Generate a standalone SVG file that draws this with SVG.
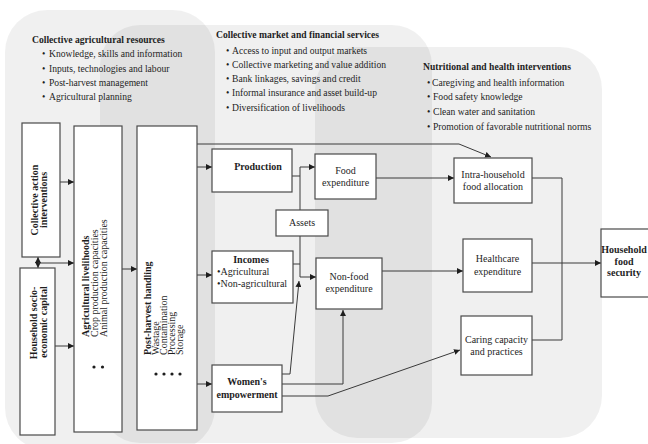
<svg xmlns="http://www.w3.org/2000/svg" width="648" height="444" viewBox="0 0 648 444">
<style>
.bg{fill:#000;fill-opacity:0.06}
.box{fill:#fff;stroke:#4a4a4a;stroke-width:1.2}
.t{font-family:"Liberation Serif","Times New Roman",serif;fill:#1e1e1e;font-size:10px}
.b{font-weight:bold}
.hd{font-size:9.6px}
.m{text-anchor:middle}
.conn path{fill:none;stroke:#3a3a3a;stroke-width:1}
.dot{fill:#1e1e1e}
</style>
<defs>
<marker id="ar" markerUnits="userSpaceOnUse" markerWidth="7" markerHeight="6" refX="6" refY="3" orient="auto">
<path d="M0,0 L6,3 L0,6 z" fill="#1e1e1e"/>
</marker>
<marker id="as" markerUnits="userSpaceOnUse" markerWidth="7" markerHeight="6" refX="0" refY="3" orient="auto">
<path d="M6,0 L0,3 L6,6 z" fill="#1e1e1e"/>
</marker>
</defs>
<rect width="648" height="444" fill="#fff"/>
<g id="backgrounds">
<rect class="bg" x="5" y="10" width="210" height="440" rx="42" ry="42"/>
<rect class="bg" x="100" y="25" width="332" height="418" rx="40" ry="40"/>
<rect class="bg" x="315" y="47" width="287" height="391" rx="42" ry="42"/>
</g>
<g id="hdr-agri">
<text class="t b hd" x="32" y="43">Collective agricultural resources</text>
<text class="t hd" x="42" y="57">•</text><text class="t hd" x="49" y="57">Knowledge, skills and information</text>
<text class="t hd" x="42" y="72">•</text><text class="t hd" x="49" y="72">Inputs, technologies and labour</text>
<text class="t hd" x="42" y="86">•</text><text class="t hd" x="49" y="86">Post-harvest management</text>
<text class="t hd" x="42" y="100">•</text><text class="t hd" x="49" y="100">Agricultural planning</text>
</g>
<g id="hdr-market">
<text class="t b hd" x="216" y="38">Collective market and financial services</text>
<text class="t hd" x="226" y="54">•</text><text class="t hd" x="232" y="54">Access to input and output markets</text>
<text class="t hd" x="226" y="68">•</text><text class="t hd" x="232" y="68">Collective marketing and value addition</text>
<text class="t hd" x="226" y="82">•</text><text class="t hd" x="232" y="82">Bank linkages, savings and credit</text>
<text class="t hd" x="226" y="96">•</text><text class="t hd" x="232" y="96">Informal insurance and asset build-up</text>
<text class="t hd" x="226" y="111">•</text><text class="t hd" x="232" y="111">Diversification of livelihoods</text>
</g>
<g id="hdr-nutrition">
<text class="t b hd" x="423" y="70">Nutritional and health interventions</text>
<text class="t hd" x="427" y="86">•</text><text class="t hd" x="432" y="86">Caregiving and health information</text>
<text class="t hd" x="427" y="100">•</text><text class="t hd" x="433" y="100">Food safety knowledge</text>
<text class="t hd" x="427" y="115">•</text><text class="t hd" x="433" y="115">Clean water and sanitation</text>
<text class="t hd" x="427" y="130">•</text><text class="t hd" x="433" y="130">Promotion of favorable nutritional norms</text>
</g>
<g class="conn" id="connectors">
<path d="M60,182 H74" marker-end="url(#ar)"/>
<path d="M38,257 V268" marker-start="url(#as)" marker-end="url(#ar)"/>
<path d="M38,263 H74" marker-end="url(#ar)"/>
<path d="M55,346 H74" marker-end="url(#ar)"/>
<path d="M122,269 H137" marker-end="url(#ar)"/>
<path d="M197,167 H212" marker-end="url(#ar)"/>
<path d="M197,275 H212" marker-end="url(#ar)"/>
<path d="M197,384 H212" marker-end="url(#ar)"/>
<path d="M197,144 H459 L491,157" marker-end="url(#ar)"/>
<path d="M292,176 H300"/>
<path d="M300,210 V167 H315" marker-end="url(#ar)"/>
<path d="M300,236 V277 H316" marker-end="url(#ar)"/>
<path d="M293,264 H300"/>
<path d="M282,374 H290 L299,281" marker-end="url(#ar)"/>
<path d="M282,384 H343 V310" marker-end="url(#ar)"/>
<path d="M282,396 H328 L460,350" marker-end="url(#ar)"/>
<path d="M376,178 H454" marker-end="url(#ar)"/>
<path d="M382,271 H463" marker-end="url(#ar)"/>
<path d="M532,178 H562 V340 H532"/>
<path d="M532,263 H601" marker-end="url(#ar)"/>
</g>
<g id="collective-action">
<rect class="box" x="22" y="123" width="38" height="134"/>
<text class="t b m" font-size="12" transform="translate(37.5,200) rotate(-90)">Collective action</text>
<text class="t b m" font-size="12" transform="translate(47,200) rotate(-90)">interventions</text>
</g>
<g id="household-capital">
<rect class="box" x="20" y="268" width="35" height="167"/>
<text class="t b m" font-size="11.5" transform="translate(37,323) rotate(-90)">Household socio-</text>
<text class="t b m" font-size="11.5" transform="translate(47,322) rotate(-90)">economic capital</text>
</g>
<g id="agri-livelihoods">
<rect class="box" x="74" y="126" width="48" height="306"/>
<text class="t b" font-size="11.5" transform="translate(88.5,337) rotate(-90)">Agricultural livelihoods</text>
<text class="t" font-size="9.6" transform="translate(97.5,337) rotate(-90)">Crop production capacities</text>
<text class="t" font-size="9.6" transform="translate(106.5,337) rotate(-90)">Animal production capacities</text>
<circle class="dot" cx="94" cy="367" r="1.6"/>
<circle class="dot" cx="102.5" cy="367" r="1.6"/>
</g>
<g id="post-harvest">
<rect class="box" x="137" y="126" width="60" height="304"/>
<text class="t b" font-size="11.5" transform="translate(150.5,355) rotate(-90)">Post-harvest handling</text>
<text class="t" font-size="9" transform="translate(159,355) rotate(-90)">Wastage</text>
<text class="t" font-size="9" transform="translate(167,355) rotate(-90)">Contamination</text>
<text class="t" font-size="9" transform="translate(175,355) rotate(-90)">Processing</text>
<text class="t" font-size="9" transform="translate(183,355) rotate(-90)">Storage</text>
<circle class="dot" cx="156" cy="374" r="1.6"/>
<circle class="dot" cx="164" cy="374" r="1.6"/>
<circle class="dot" cx="172" cy="374" r="1.6"/>
<circle class="dot" cx="180" cy="374" r="1.6"/>
</g>
<g id="production">
<rect class="box" x="212" y="149" width="80" height="43"/>
<text class="t b m" font-size="9.8" x="258" y="170">Production</text>
</g>
<g id="food-expenditure">
<rect class="box" x="315" y="154" width="61" height="45"/>
<text class="t m" x="345.5" y="174">Food</text>
<text class="t m" x="345.5" y="186">expenditure</text>
</g>
<g id="assets">
<rect class="box" x="276" y="210" width="52" height="26"/>
<text class="t m" x="302" y="226">Assets</text>
</g>
<g id="incomes">
<rect class="box" x="212" y="251" width="81" height="52"/>
<text class="t b m" font-size="9.8" x="251" y="263">Incomes</text>
<text class="t" x="217" y="275">•Agricultural</text>
<text class="t" x="217" y="287">•Non-agricultural</text>
</g>
<g id="non-food-expenditure">
<rect class="box" x="316" y="258" width="66" height="51"/>
<text class="t m" x="349" y="280">Non-food</text>
<text class="t m" x="349" y="292">expenditure</text>
</g>
<g id="womens-empowerment">
<rect class="box" x="212" y="365" width="70" height="47"/>
<text class="t b m" font-size="9.8" x="247" y="385">Women's</text>
<text class="t b m" font-size="9.8" x="247" y="398">empowerment</text>
</g>
<g id="intra-household">
<rect class="box" x="454" y="158" width="78" height="45"/>
<text class="t m" x="493" y="178">Intra-household</text>
<text class="t m" x="493" y="190">food allocation</text>
</g>
<g id="healthcare">
<rect class="box" x="463" y="239" width="69" height="53"/>
<text class="t m" x="497.5" y="262">Healthcare</text>
<text class="t m" x="497.5" y="275">expenditure</text>
</g>
<g id="caring">
<rect class="box" x="461" y="316" width="71" height="59"/>
<text class="t m" x="496.5" y="343">Caring capacity</text>
<text class="t m" x="496.5" y="355">and practices</text>
</g>
<g id="household-food-security">
<rect class="box" x="601" y="229" width="52" height="68"/>
<text class="t b m" font-size="9.6" x="624" y="253">Household</text>
<text class="t b m" font-size="9.6" x="624" y="265">food</text>
<text class="t b m" font-size="9.6" x="624" y="276">security</text>
</g>
</svg>
